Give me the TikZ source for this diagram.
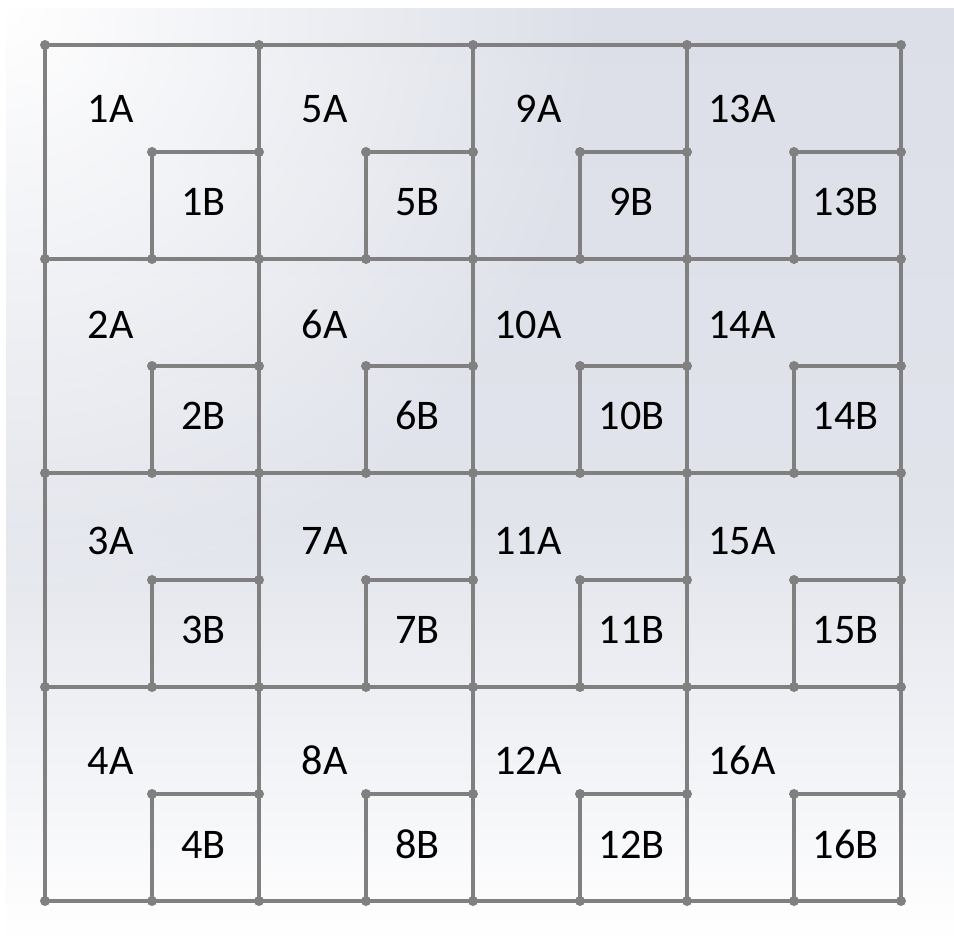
\documentclass[tikz,border=0pt]{standalone}
\usepackage{fontspec}
\setmainfont{Carlito}
\usepackage{tikz}
\usetikzlibrary{calc, fadings}
\usepackage{xcolor}

\definecolor{linha}{RGB}{128,128,128}
\definecolor{fundo}{RGB}{220,223,232}
\definecolor{texto}{RGB}{0,0,0}
\tikzfading[name=canto, inner color=transparent!0, outer color=transparent!100]

\begin{document}
\begin{tikzpicture}[x=0.02cm, y=-0.02cm,
    grade/.style={draw=linha, line width=0.07cm},
    ponto/.style={fill=linha},
    rotulo/.style={font=\fontsize{24}{28}\selectfont, text=texto, inner sep=0pt}]
        % Fundo
        \useasboundingbox (0,0) rectangle (954,945);
        \fill[white] (0,0) rectangle (954,945);
        \shade[top color=fundo, bottom color=fundo!85!white] (6,9) rectangle (954,520);
        \shade[top color=fundo!85!white, bottom color=white] (6,519) rectangle (954,943);
        \fill[white, path fading=canto] (6,9) circle (0.5cm*24);

        % Pontos da grade
        \foreach \c in {0,...,4}
          \foreach \r in {0,...,4}
            \coordinate (p-\c-\r) at ({45+214*\c},{45+214*\r});

        % Linhas da grade
        \foreach \k in {0,...,4} {
          \draw[grade] (p-0-\k) -- (p-4-\k);
          \draw[grade] (p-\k-0) -- (p-\k-4);
        }
        \foreach \c in {0,...,4}
          \foreach \r in {0,...,4}
            \fill[ponto] (p-\c-\r) circle (0.1cm);

        % Quadrados internos e rotulos
        \foreach \c in {0,...,3}
          \foreach \r in {0,...,3} {
            \pgfmathtruncatemacro\cc{\c+1}
            \pgfmathtruncatemacro\rr{\r+1}
            \pgfmathtruncatemacro\n{4*\c+\r+1}
            \pgfmathsetmacro\ya{{78,80,82,88}[\r]}
            \coordinate (q-\c-\r) at ($(p-\c-\r)!0.5!(p-\cc-\rr)$);
            \coordinate (qb-\c-\r) at (q-\c-\r |- p-\c-\rr);
            \coordinate (qr-\c-\r) at (q-\c-\r -| p-\cc-\r);
            \draw[grade] (qb-\c-\r) -- (q-\c-\r) -- (qr-\c-\r);
            \foreach \pt in {q,qb,qr}
              \fill[ponto] (\pt-\c-\r) circle (0.1cm);
            \node[rotulo, anchor=base east] (a\n) at ($(p-\c-\r)+(89,\ya)$) {\n A};
            \node[rotulo, anchor=base] (b\n) at ($(q-\c-\r)+(51.5,64)$) {\n B};
          }
\end{tikzpicture}
\end{document}
